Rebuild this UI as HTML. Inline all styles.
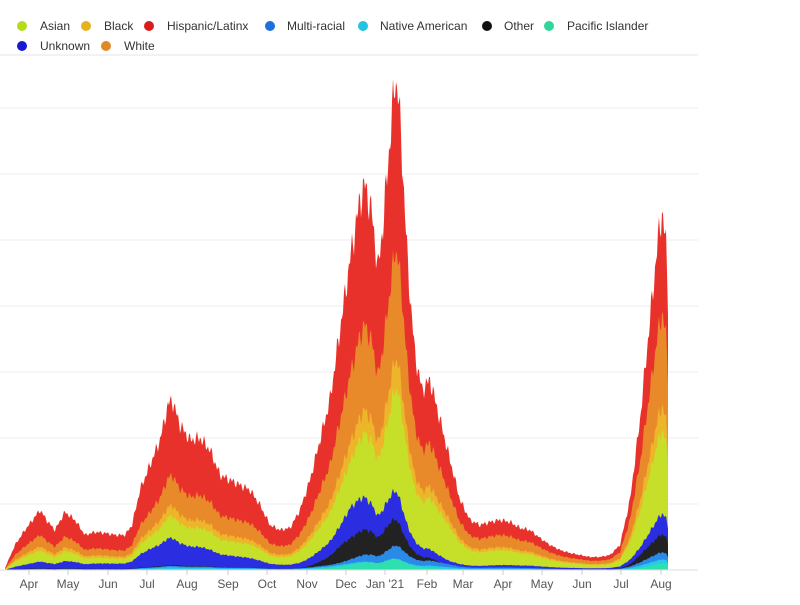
<!DOCTYPE html>
<html><head><meta charset="utf-8"><style>
body{margin:0;background:#fff;width:800px;height:600px;overflow:hidden;font-family:"Liberation Sans",sans-serif}
</style></head><body>
<svg id="s" width="800" height="600" xmlns="http://www.w3.org/2000/svg" font-family="Liberation Sans, sans-serif">
<rect width="800" height="600" fill="#fff"/>
<line x1="0" y1="55" x2="698" y2="55" stroke="#eee" stroke-width="1.5"/>
<g stroke="#eee" stroke-width="1">
<line x1="0" y1="108" x2="698" y2="108"/><line x1="0" y1="174" x2="698" y2="174"/>
<line x1="0" y1="240" x2="698" y2="240"/><line x1="0" y1="306" x2="698" y2="306"/>
<line x1="0" y1="372" x2="698" y2="372"/><line x1="0" y1="438" x2="698" y2="438"/>
<line x1="0" y1="504" x2="698" y2="504"/></g>
<g font-size="12" fill="#333">
<circle cx="22" cy="26" r="5" fill="#b5dc1b"/><text x="40" y="30">Asian</text>
<circle cx="86" cy="26" r="5" fill="#e6b31e"/><text x="104" y="30">Black</text>
<circle cx="149" cy="26" r="5" fill="#d81d1d"/><text x="167" y="30">Hispanic/Latinx</text>
<circle cx="270" cy="26" r="5" fill="#1d6fdc"/><text x="287" y="30">Multi-racial</text>
<circle cx="363" cy="26" r="5" fill="#22c4e0"/><text x="380" y="30">Native American</text>
<circle cx="487" cy="26" r="5" fill="#111"/><text x="504" y="30">Other</text>
<circle cx="549" cy="26" r="5" fill="#2ed69a"/><text x="567" y="30">Pacific Islander</text>
<circle cx="22" cy="46" r="5" fill="#1a1ad0"/><text x="40" y="50">Unknown</text>
<circle cx="106" cy="46" r="5" fill="#e0892a"/><text x="124" y="50">White</text>
</g>
<g id="layers"></g>
<line x1="0" y1="570" x2="698" y2="570" stroke="#ddd"/>
<g id="ticks" font-size="12" fill="#555" text-anchor="middle"></g>
</svg>
<script>
const T=[[5,568],[15,545],[25,530],[40,510],[48,522],[55,530],[65,512],[75,520],[85,535],[95,532],[105,533],[115,535],[125,535],[132,525],[140,490],[150,465],[160,440],[168,405],[172,400],[180,425],[190,440],[200,438],[210,450],[220,475],[230,480],[240,485],[250,490],[260,505],[270,525],[280,530],[290,528],[300,510],[310,480],[320,440],[330,400],[340,330],[350,260],[360,200],[365,185],[372,215],[378,270],[383,225],[390,140],[395,80],[398,90],[402,155],[408,270],[415,355],[422,390],[430,380],[440,420],[450,460],[460,500],[470,520],[480,525],[490,522],[500,520],[510,522],[520,528],[530,530],[540,538],[550,545],[560,550],[570,553],[580,555],[590,557],[600,557],[610,555],[620,545],[630,500],[640,420],[650,320],[658,240],[662,212],[666,245],[668,300]];
function interp(P,x){if(x<=P[0][0])return P[0][1];for(let i=1;i<P.length;i++){if(x<=P[i][0]){const a=P[i-1],b=P[i];return a[1]+(b[1]-a[1])*(x-a[0])/(b[0]-a[0]);}}return P[P.length-1][1];}
const F={
 orange:[[0,.6],[150,.55],[300,.6],[390,.65],[500,.7],[668,.72]],
 gold:[[0,.4],[150,.38],[300,.38],[390,.43],[500,.46],[668,.46]],
 yg:[[0,.33],[150,.32],[300,.32],[390,.37],[500,.4],[668,.39]],
 blue:[[0,.12],[150,.2],[250,.15],[300,.12],[350,.2],[390,.17],[450,.08],[668,.16]],
 black:[[0,.03],[300,.03],[340,.1],[390,.11],[450,.04],[600,.03],[640,.1],[668,.1]],
 multi:[[0,.02],[340,.03],[390,.05],[668,.05]],
 cyan:[[0,.012],[668,.03]],
 teal:[[0,.004],[300,.006],[390,.025],[450,.006],[600,.006],[668,.02]]};
const order=[['#e8312a',null],['#e88a2a','orange'],['#edb52a','gold'],['#c6e02a','yg'],['#2a2ee0','blue'],['#222','black'],['#2a8ae8','multi'],['#2ac8e8','cyan'],['#2ee0b0','teal']];
let H=[];for(let x=5;x<=668;x++){let h=570-interp(T,x);h*=1+0.035*Math.sin(x*1.7)+0.025*Math.sin(x*0.9);H.push([x,Math.max(0,h)]);}
let g='';
for(const [c,k] of order){let pts=H.map(([x,h])=>{const f=k?interp(F[k],x):1;return x+','+(570-h*f).toFixed(1);});g+=`<polygon fill="${c}" points="5,570 ${pts.join(' ')} 668,570"/>`;}
document.getElementById('layers').innerHTML=g;
const L=[[29,'Apr'],[68,'May'],[108,'Jun'],[147,'Jul'],[187,'Aug'],[228,'Sep'],[267,'Oct'],[307,'Nov'],[346,'Dec'],[385,"Jan '21"],[427,'Feb'],[463,'Mar'],[503,'Apr'],[542,'May'],[582,'Jun'],[621,'Jul'],[661,'Aug']];
let t='';for(const [x,s] of L){t+=`<line x1="${x}" y1="570" x2="${x}" y2="575" stroke="#ccc"/><text x="${x}" y="588">${s}</text>`;}
document.getElementById('ticks').innerHTML=t;
</script>
</body></html>
